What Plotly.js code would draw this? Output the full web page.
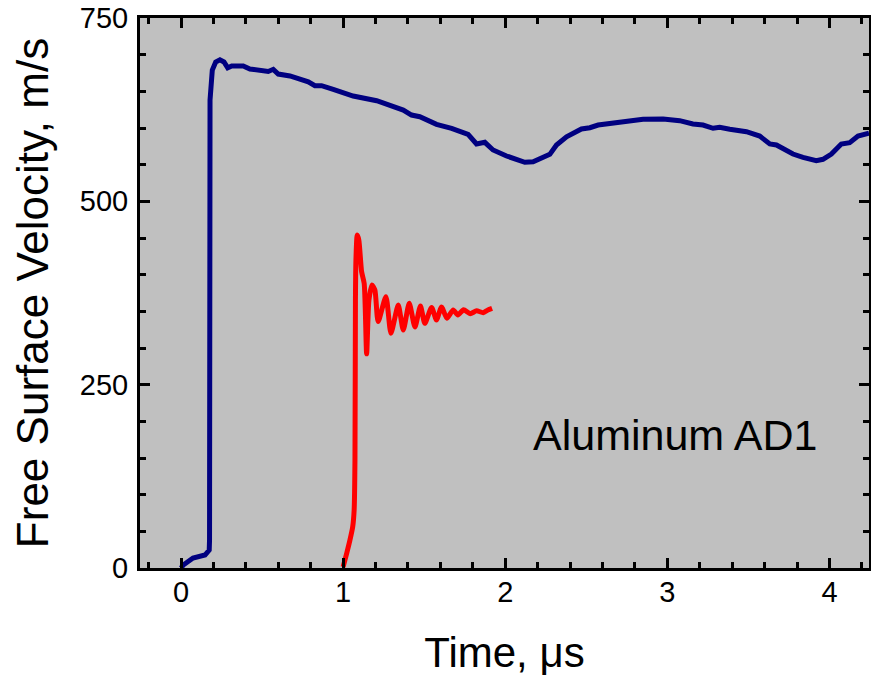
<!DOCTYPE html>
<html>
<head>
<meta charset="utf-8">
<script src="https://cdn.plot.ly/plotly-3.0.1.min.js"></script>
<style>html,body{margin:0;padding:0;background:#fff;}#chart{width:871px;height:677px;}</style>
</head>
<body>
<div id="chart"></div>
<script>
// Blue trace (time in µs, velocity in m/s)
const blueTime = [0, 0.014, 0.074, 0.148, 0.174, 0.176, 0.179, 0.185, 0.193, 0.214, 0.240, 0.265, 0.288, 0.313, 0.384, 0.425, 0.538, 0.569, 0.600, 0.672, 0.734, 0.785, 0.826, 0.867, 0.939, 1.062, 1.207, 1.289, 1.371, 1.422, 1.473, 1.576, 1.669, 1.771, 1.823, 1.874, 1.925, 2.008, 2.090, 2.121, 2.172, 2.213, 2.275, 2.316, 2.378, 2.470, 2.522, 2.573, 2.686, 2.789, 2.850, 2.974, 3.076, 3.158, 3.220, 3.282, 3.323, 3.385, 3.488, 3.570, 3.632, 3.673, 3.713, 3.775, 3.837, 3.919, 3.960, 4.012, 4.073, 4.125, 4.176, 4.244];
const blueVel = [0, 4, 13.6, 17.7, 24.5, 38, 638, 665, 679, 690, 693, 690, 682, 684.5, 684.5, 680.5, 677, 680, 673.6, 671, 667, 663, 657.7, 657.7, 652.8, 643.6, 637.2, 631.4, 624.5, 617.7, 615.4, 605, 599.6, 591.4, 578.2, 580.5, 570, 561.8, 555.4, 553.2, 554, 558.7, 564.1, 576.8, 588.1, 598.6, 600.4, 604, 607.2, 610, 611.9, 612.3, 610, 605.5, 604, 599.6, 601, 598.2, 595, 589, 578.2, 576.8, 571.4, 564.5, 560, 555.4, 557.3, 564.5, 578.2, 580, 589, 592.8];

// Red trace
const redTime = [1.0, 1.022, 1.042, 1.059, 1.068, 1.073, 1.076, 1.079, 1.087, 1.097, 1.114, 1.130, 1.145, 1.159, 1.178, 1.196, 1.216, 1.264, 1.295, 1.340, 1.371, 1.408, 1.443, 1.477, 1.504, 1.546, 1.576, 1.607, 1.640, 1.679, 1.708, 1.743, 1.784, 1.823, 1.864, 1.893, 1.919];
const redVel = [1.4, 20, 38, 56, 79, 147, 365, 420, 454, 447, 404, 388, 292, 365, 386, 379, 336, 370, 320, 358.6, 324.5, 361, 328.6, 357.3, 333.7, 355.2, 338.2, 356, 340.5, 351.8, 345, 352.2, 346.8, 350.7, 348.2, 351.8, 354.1];

const xTickVals = [0, 1, 2, 3, 4];
const yTickVals = [0, 250, 500, 750];
const annotationText = "Aluminum AD1";
const xTitle = "Time, μs";
const yTitle = "Free Surface Velocity, m/s";

const FONT = "Liberation Sans, Arial, sans-serif";

const traces = [
  {x: blueTime, y: blueVel, mode: "lines", line: {color: "#000080", width: 5}, hoverinfo: "skip"},
  {x: redTime, y: redVel, mode: "lines", line: {color: "#FF0000", width: 5, shape: "spline", smoothing: 0.6}, hoverinfo: "skip"}
];

const axisCommon = {
  showline: true, linewidth: 3, linecolor: "#000", mirror: "ticks",
  ticks: "inside", ticklen: 10, tickwidth: 3, tickcolor: "#000",
  showgrid: false, zeroline: false,
  tickfont: {family: FONT, size: 29, color: "#000"}
};

const layout = {
  width: 871, height: 677,
  margin: {l: 140, r: 2, t: 18, b: 109},
  paper_bgcolor: "#fff",
  plot_bgcolor: "#C0C0C0",
  showlegend: false,
  xaxis: Object.assign({}, axisCommon, {
    range: [-0.253, 4.244],
    tickvals: xTickVals, ticktext: xTickVals.map(String),
    minor: {ticks: "inside", ticklen: 6, tickwidth: 3, tickcolor: "#000", dtick: 0.2, tick0: 0, showgrid: false},
    ticklabelstandoff: -4,
    title: {text: xTitle, font: {family: FONT, size: 42, color: "#000"}, standoff: 31}
  }),
  yaxis: Object.assign({}, axisCommon, {
    range: [0, 750],
    tickvals: yTickVals, ticktext: yTickVals.map(String),
    minor: {ticks: "inside", ticklen: 6, tickwidth: 3, tickcolor: "#000", dtick: 50, tick0: 0, showgrid: false},
    ticklabelstandoff: 3,
    title: {text: yTitle, font: {family: FONT, size: 44, color: "#000"}, standoff: 18}
  }),
  annotations: [{
    x: 3.046, y: 182, xref: "x", yref: "y", text: annotationText, showarrow: false,
    font: {family: FONT, size: 43, color: "#000"}, xanchor: "center", yanchor: "middle"
  }]
};

Plotly.newPlot("chart", traces, layout, {displayModeBar: false, staticPlot: true});
</script>
</body>
</html>
